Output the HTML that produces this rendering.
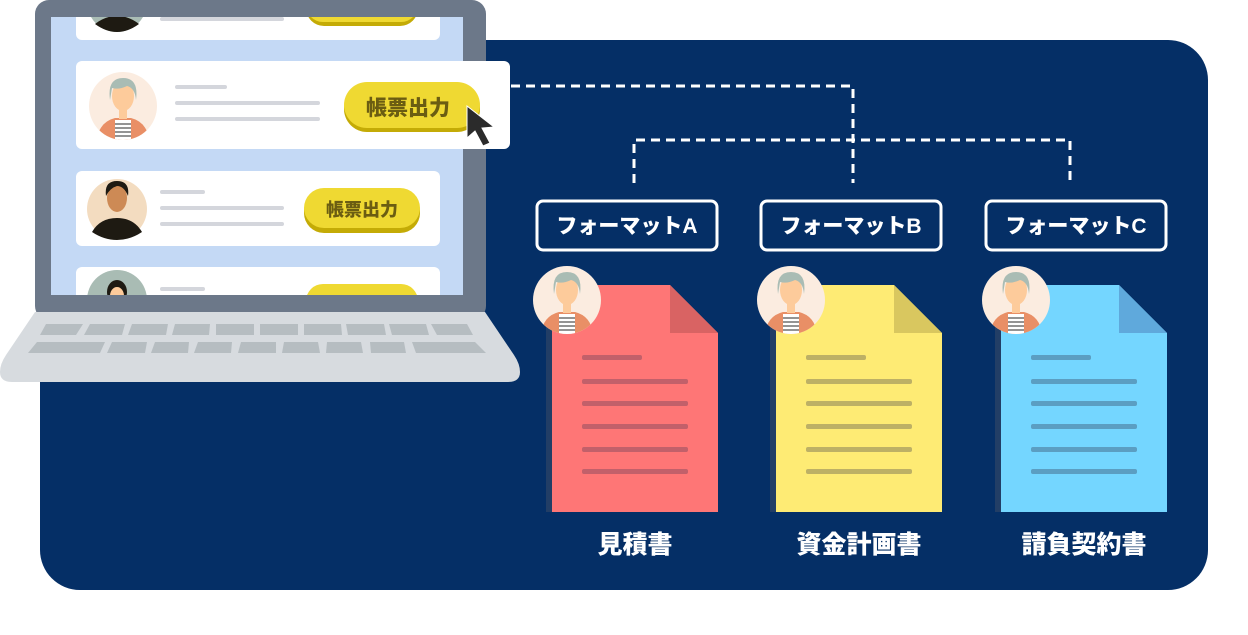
<!DOCTYPE html>
<html><head><meta charset="utf-8"><style>
html,body{margin:0;padding:0;background:#fff;}
svg text{font-family:"Liberation Sans","Noto Sans CJK JP",sans-serif;font-weight:900;}
</style></head><body>
<svg width="1248" height="630" viewBox="0 0 1248 630" xmlns="http://www.w3.org/2000/svg">
<defs>
<clipPath id="scr"><rect x="51" y="17" width="412" height="278"/></clipPath>
<g id="av1">
  <circle cx="0" cy="0" r="34" fill="#fbece0"/>
  <clipPath id="c1"><circle cx="0" cy="0" r="34"/></clipPath>
  <g clip-path="url(#c1)">
    <path d="M-26 34 Q-24 16 -8 12 L8 12 Q24 16 26 34 Z" fill="#e98f66"/>
    <rect x="-8" y="14" width="16" height="22" fill="#fff"/>
    <g stroke="#555" stroke-width="1.2"><line x1="-8" y1="18" x2="8" y2="18"/><line x1="-8" y1="22" x2="8" y2="22"/><line x1="-8" y1="26" x2="8" y2="26"/><line x1="-8" y1="30" x2="8" y2="30"/></g>
    <rect x="-4" y="0" width="8" height="13" fill="#fdcb9b"/>
    <ellipse cx="0" cy="-10" rx="11" ry="15" fill="#fdcb9b"/>
    <path d="M-13 -6 Q-16 -28 0 -28 Q16 -28 13 -6 Q12 -18 4 -20 Q-4 -16 -11 -18 Z" fill="#a9bcb4"/>
  </g>
</g>
</defs>
<rect x="40" y="40" width="1168" height="550" rx="40" fill="#052f66"/>

<rect x="35" y="0" width="451" height="320" rx="14" fill="#6c7889"/>
<rect x="51" y="17" width="412" height="278" fill="#c4d9f5"/>
<g clip-path="url(#scr)">
  <rect x="76" y="-20" width="364" height="60" rx="6" fill="#fff"/>
  <circle cx="117" cy="2" r="30" fill="#a9bcb4"/><path d="M95 24 Q105 16 117 16 Q129 16 139 24 Q128 32 117 32 Q106 32 95 24Z" fill="#1e1a12"/>
  <rect x="160" y="17" width="124" height="4" rx="2" fill="#d4d6dc"/>
  <rect x="306" y="-10" width="112" height="36" rx="18" fill="#c4ab06"/>
  <rect x="306" y="-12" width="112" height="34" rx="17" fill="#efd932"/>
  <rect x="76" y="171" width="364" height="75" rx="6" fill="#fff"/>
  <circle cx="117" cy="209" r="30" fill="#f3dcc0"/>
  <path d="M92 232 Q100 218 117 218 Q134 218 142 232 Q130 240 117 240 Q104 240 92 232Z" fill="#1e1a12"/>
  <ellipse cx="117" cy="198" rx="10" ry="14" fill="#cd8a55"/>
  <path d="M106 196 Q104 181 117 181 Q130 181 128 196 Q124 186 117 186 Q110 188 106 196Z" fill="#1e1a12"/>
  <rect x="160" y="190" width="45" height="4" rx="2" fill="#d4d6dc"/>
  <rect x="160" y="206" width="124" height="4" rx="2" fill="#d4d6dc"/>
  <rect x="160" y="222" width="124" height="4" rx="2" fill="#d4d6dc"/>
  <rect x="304" y="191" width="116" height="42" rx="20" fill="#c4ab06"/>
  <rect x="304" y="188" width="116" height="40" rx="20" fill="#efd932"/>
  <text x="362" y="216" font-size="18" fill="#6b5d12" text-anchor="middle">帳票出力</text>
  <rect x="76" y="267" width="364" height="40" rx="6" fill="#fff"/>
  <circle cx="117" cy="300" r="30" fill="#a9bcb4"/>
  <ellipse cx="117" cy="292" rx="10" ry="12" fill="#1e1a12"/><ellipse cx="117" cy="296" rx="7" ry="9" fill="#fdcb9b"/>
  <rect x="160" y="287" width="45" height="4" rx="2" fill="#d4d6dc"/>
  <rect x="306" y="284" width="112" height="34" rx="17" fill="#efd932"/>
</g>
<path d="M35 312 L485 312 L514 355 Q520 364 520 372 Q520 382 508 382 L12 382 Q0 382 0 372 Q0 364 6 355 Z" fill="#d7dbdf"/>
<g fill="#b6bdc1">
  <path d="M46 324 H83 L76 335 H40Z"/><path d="M90 324 H125 L122 335 H84Z"/><path d="M132 324 H168 L166 335 H128Z"/><path d="M175 324 H210 L209 335 H172Z"/><path d="M216 324 H254 L254 335 H216Z"/><path d="M260 324 H298 L298 335 H260Z"/><path d="M304 324 H341 L342 335 H304Z"/><path d="M346 324 H384 L386 335 H348Z"/><path d="M389 324 H426 L429 335 H392Z"/><path d="M431 324 H467 L473 335 H437Z"/>
  <path d="M37 342 H105 L100 353 H28Z"/><path d="M112 342 H147 L145 353 H107Z"/><path d="M155 342 H189 L188 353 H151Z"/><path d="M198 342 H232 L231 353 H194Z"/><path d="M241 342 H276 L276 353 H238Z"/><path d="M284 342 H318 L320 353 H282Z"/><path d="M327 342 H361 L363 353 H326Z"/><path d="M370 342 H404 L406 353 H371Z"/><path d="M412 342 H475 L486 353 H416Z"/>
</g>
<rect x="76" y="61" width="434" height="88" rx="6" fill="#fff"/>
<use href="#av1" transform="translate(123,106)"/>
<rect x="175" y="85" width="52" height="4" rx="2" fill="#d4d6dc"/>
<rect x="175" y="101" width="145" height="4" rx="2" fill="#d4d6dc"/>
<rect x="175" y="117" width="145" height="4" rx="2" fill="#d4d6dc"/>
<rect x="344" y="86" width="136" height="46" rx="23" fill="#c4ab06"/>
<rect x="344" y="82" width="136" height="46" rx="23" fill="#efd932"/>
<text x="408" y="115" font-size="21" fill="#6b5d12" text-anchor="middle">帳票出力</text>
<path d="M467 106 L467 138 L475 131 L483 146 L490 143 L482 128 L494 127 Z" fill="#2b2b2b" stroke="#fff" stroke-width="1"/>

<g stroke="#fff" stroke-width="3" stroke-dasharray="9 6" fill="none">
  <path d="M511 86 H853 V183"/>
  <path d="M634 183 V140 H1070 V183"/>
</g>

<g fill="none" stroke="#fff" stroke-width="3">
  <rect x="537" y="201" width="180" height="49" rx="6"/>
  <rect x="761" y="201" width="180" height="49" rx="6"/>
  <rect x="986" y="201" width="180" height="49" rx="6"/>
</g>
<g fill="#fff" font-size="21" text-anchor="middle">
  <text x="627" y="233">フォーマットA</text>
  <text x="851" y="233">フォーマットB</text>
  <text x="1076" y="233">フォーマットC</text>
</g>

<g>
  <rect x="546" y="291" width="8" height="221" fill="#223e66"/>
  <path d="M552 285 H670 L718 333 V512 H552Z" fill="#fe7676"/>
  <path d="M670 285 L718 333 H670Z" fill="#d96363"/>
  <g fill="#c2606a"><rect x="582" y="355" width="60" height="5" rx="2"/><rect x="582" y="379" width="106" height="5" rx="2"/><rect x="582" y="401" width="106" height="5" rx="2"/><rect x="582" y="424" width="106" height="5" rx="2"/><rect x="582" y="447" width="106" height="5" rx="2"/><rect x="582" y="469" width="106" height="5" rx="2"/></g>
  <use href="#av1" transform="translate(567,300)"/>
</g>
<g transform="translate(224,0)">
  <rect x="546" y="291" width="8" height="221" fill="#223e66"/>
  <path d="M552 285 H670 L718 333 V512 H552Z" fill="#feeb74"/>
  <path d="M670 285 L718 333 H670Z" fill="#d9c75f"/>
  <g fill="#bdb065"><rect x="582" y="355" width="60" height="5" rx="2"/><rect x="582" y="379" width="106" height="5" rx="2"/><rect x="582" y="401" width="106" height="5" rx="2"/><rect x="582" y="424" width="106" height="5" rx="2"/><rect x="582" y="447" width="106" height="5" rx="2"/><rect x="582" y="469" width="106" height="5" rx="2"/></g>
  <use href="#av1" transform="translate(567,300)"/>
</g>
<g transform="translate(449,0)">
  <rect x="546" y="291" width="8" height="221" fill="#223e66"/>
  <path d="M552 285 H670 L718 333 V512 H552Z" fill="#74d6ff"/>
  <path d="M670 285 L718 333 H670Z" fill="#5fa9dc"/>
  <g fill="#5b9ec2"><rect x="582" y="355" width="60" height="5" rx="2"/><rect x="582" y="379" width="106" height="5" rx="2"/><rect x="582" y="401" width="106" height="5" rx="2"/><rect x="582" y="424" width="106" height="5" rx="2"/><rect x="582" y="447" width="106" height="5" rx="2"/><rect x="582" y="469" width="106" height="5" rx="2"/></g>
  <use href="#av1" transform="translate(567,300)"/>
</g>
<g fill="#fff" font-size="25" text-anchor="middle">
  <text x="635" y="553">見積書</text>
  <text x="859" y="553">資金計画書</text>
  <text x="1084" y="553">請負契約書</text>
</g>
</svg>
</body></html>
